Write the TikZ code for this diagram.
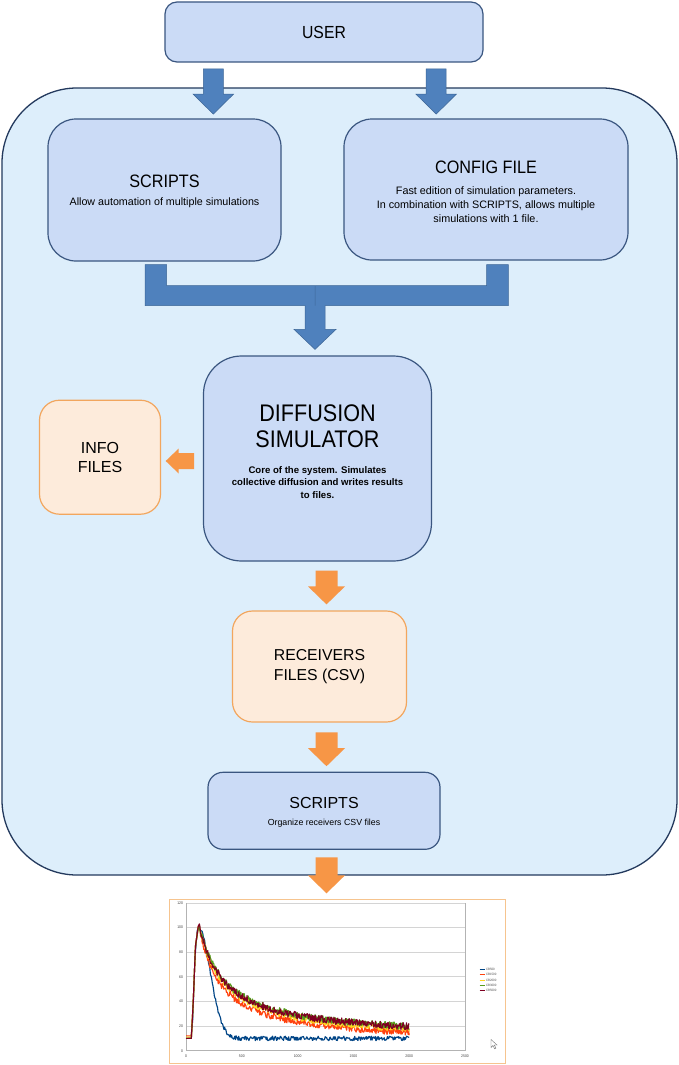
\documentclass[tikz,border=0pt]{standalone}
\usepackage{fontspec}
\setmainfont[FakeStretch=0.9]{Liberation Sans}
\newfontfamily\plainfont{Liberation Sans}
\usetikzlibrary{calc}
\definecolor{boxblue}{HTML}{CBDBF6}
\definecolor{boxedge}{HTML}{3A5680}
\definecolor{contfill}{HTML}{DDEEFB}
\definecolor{contedge}{HTML}{23395D}
\definecolor{arrblue}{HTML}{4F81BD}
\definecolor{arrblueedge}{HTML}{3C6596}
\definecolor{arrorange}{HTML}{F79646}
\definecolor{orfill}{HTML}{FDEBDB}
\definecolor{oredge}{HTML}{F2A65E}
\definecolor{chartedge}{HTML}{F6C48F}
\definecolor{gridgray}{HTML}{D4D4D4}
\definecolor{axisgray}{HTML}{B3B3B3}
\definecolor{cBlue}{HTML}{004586}
\definecolor{cRed}{HTML}{FF420E}
\definecolor{cYel}{HTML}{FFD320}
\definecolor{cGreen}{HTML}{579D1C}
\definecolor{cDark}{HTML}{7E0021}
\tikzset{
  bluebox/.style={draw=boxedge, fill=boxblue, line width=1.2pt, inner sep=0pt},
  orbox/.style={draw=oredge, fill=orfill, line width=1.2pt, inner sep=0pt, align=center, text=black},
  txt/.style={inner sep=0pt, align=center, text=black},
  barrow/.style={fill=arrblue, draw=arrblueedge, line width=0.5pt},
  oarrow/.style={fill=arrorange, draw=none},
  gridline/.style={draw=gridgray, line width=0.5pt},
  axisline/.style={draw=axisgray, line width=0.6pt},
  ticklab/.style={inner sep=0pt, font=\fontsize{3.8}{4}\selectfont, text=black!75},
  legtext/.style={inner sep=0pt, font=\fontsize{3.2}{3.5}\selectfont, text=black!70},
  curve/.style={line width=1.15pt, line join=round},
}
\newcommand{\blkdown}[6]{\draw[#1] let \p1=(#2), \p2=(#3) in
  (\x1-#4,\y1) -- (\x1+#4,\y1) -- (\x1+#4,\y2+#6) -- (\x1+#5,\y2+#6) -- (\x1,\y2)
  -- (\x1-#5,\y2+#6) -- (\x1-#4,\y2+#6) -- cycle;}
\newcommand{\blkleft}[6]{\draw[#1] let \p1=(#2), \p2=(#3) in
  (\x1,\y1+#4) -- (\x2+#6,\y1+#4) -- (\x2+#6,\y1+#5) -- (\x2,\y1)
  -- (\x2+#6,\y1-#5) -- (\x2+#6,\y1-#4) -- (\x1,\y1-#4) -- cycle;}
\begin{document}
\begin{tikzpicture}[x=1pt, y=-1pt]
\useasboundingbox (0,0) rectangle (679,1065);
\fill[white] (0,0) rectangle (679,1065);

% container
\node[draw=contedge, fill=contfill, line width=1.3pt, minimum width=675pt, minimum height=787pt, rounded corners=75pt, inner sep=0pt] (cont) at (339.5,481.5) {};

% boxes
\node[bluebox, minimum width=318pt, minimum height=60pt, rounded corners=12pt, font=\fontsize{17.5}{20}\selectfont] (user) at (324,32) {USER};
\node[bluebox, minimum width=233pt, minimum height=142pt, rounded corners=28pt] (scripts) at (164.5,190) {};
\node[bluebox, minimum width=284pt, minimum height=141pt, rounded corners=28pt] (config) at (486,189.5) {};
\node[bluebox, minimum width=228pt, minimum height=205pt, rounded corners=38pt] (diff) at (317.5,458.5) {};
\node[orbox, minimum width=121pt, minimum height=114pt, rounded corners=20pt, font=\plainfont\fontsize{16}{19.3}\selectfont] (info) at (100,457.2) {INFO\\FILES};
\node[orbox, minimum width=174pt, minimum height=111pt, rounded corners=20pt, font=\plainfont\fontsize{15.8}{20}\selectfont] (recv) at (319.5,666.5) {RECEIVERS\\FILES (CSV)};
\node[bluebox, minimum width=232pt, minimum height=77pt, rounded corners=15pt] (scripts2) at (324,810.8) {};

% texts
\node[txt, font=\fontsize{18}{20}\selectfont] (scriptsT) at (164.5,181.3) {SCRIPTS};
\node[txt, font=\plainfont\fontsize{10.7}{12}\selectfont] (scriptsS) at (164.5,202.5) {Allow automation of multiple simulations};
\node[txt, font=\fontsize{18}{20}\selectfont] (configT) at (486,167) {CONFIG FILE};
\node[txt, font=\plainfont\fontsize{10.8}{14}\selectfont] (configS) at (486,204.3) {Fast edition of simulation parameters.\\In combination with SCRIPTS,\ allows multiple\\simulations with 1 file.};
\node[txt, font=\fontsize{24}{26}\selectfont] (diffT) at (317.5,426.3) {DIFFUSION\\SIMULATOR};
\node[txt, font=\plainfont\bfseries\fontsize{9.6}{12.5}\selectfont] (diffS) at (317.5,482.5) {Core of the system. Simulates\\collective diffusion and writes results\\to files.};
\node[txt, font=\plainfont\fontsize{16}{18}\selectfont] (scripts2T) at (324,802.7) {SCRIPTS};
\node[txt, font=\plainfont\fontsize{8.8}{10}\selectfont] (scripts2S) at (324,823) {Organize receivers CSV files};

% chart frame
\node[draw=chartedge, fill=white, line width=1pt, minimum width=336pt, minimum height=164pt, inner sep=0pt] (chart) at (337,981.3) {};

% helper coordinates for arrow axes
\coordinate (a1) at (213.3,0);
\coordinate (a2) at (436.2,0);
\coordinate (a3) at (326.5,0);

% blue block arrows
\blkdown{barrow}{$(user.south -| a1)+(0,6.3)$}{$(scripts.north -| a1)+(0,-4.3)$}{10pt}{20.3pt}{20pt}
\blkdown{barrow}{$(user.south -| a2)+(0,6.3)$}{$(config.north -| a2)+(0,-4.3)$}{10pt}{20.3pt}{20pt}

% merge connector
\coordinate (mL) at ($(scripts.south)+(-8.7,3)$);
\coordinate (mR) at ($(config.south)+(11.5,4)$);
\coordinate (mD) at ($(diff.north)+(-2.5,-6)$);
\draw[barrow] let \p1=(mL), \p2=(mR), \p3=(mD) in
  (\x1-10.8pt,\y1) -- (\x1+10.8pt,\y1) -- (\x1+10.8pt,\y1-21pt) -- (\x2-10.8pt,\y1-21pt)
  -- (\x2-10.8pt,\y2) -- (\x2+10.8pt,\y2) -- (\x2+10.8pt,\y1-41pt) -- (\x3+10pt,\y1-41pt)
  -- (\x3+10pt,\y3+20pt) -- (\x3+21pt,\y3+20pt) -- (\x3,\y3) -- (\x3-21pt,\y3+20pt)
  -- (\x3-10pt,\y3+20pt) -- (\x3-10pt,\y1-41pt) -- (\x1-10.8pt,\y1-41pt) -- cycle
  (\x3,\y1-21pt) -- (\x3,\y1-41pt);

% orange block arrows
\blkleft{oarrow}{$(diff.west)+(-8.7,2.5)$}{$(info.east)+(4.6,2.5)$}{8pt}{12.5pt}{13pt}
\blkdown{oarrow}{$(diff.south -| a3)+(0,9)$}{$(recv.north -| a3)+(0,-6)$}{11pt}{18.5pt}{18pt}
\blkdown{oarrow}{$(recv.south -| a3)+(0,9.7)$}{$(scripts2.north -| a3)+(0,-5.5)$}{11pt}{18.5pt}{18pt}
\blkdown{oarrow}{$(scripts2.south -| a3)+(0,7.5)$}{$(chart.north -| a3)+(0,-5.5)$}{11pt}{18.5pt}{18pt}

\begin{scope}[shift={(186,1050.7)}, x=0.1116pt, y=1.233pt]
  \foreach \v in {20,40,...,120} \draw[gridline] (0,\v) -- (2500,\v);
  \draw[axisline] (0,0) -- (2500,0) (0,0) -- (0,120) (2500,0) -- (2500,120);
  \foreach \v [count=\i] in {0,20,...,120} \node[ticklab, anchor=east] (yl\i) at (-25,\v) {\v};
  \foreach \v [count=\i] in {0,500,...,2500} \node[ticklab] (xl\i) at (\v,-4.2) {\v};
  \pgfmathsetseed{11}
  \draw[curve, cBlue] (0,10) -- (45,10.5) -- (60,25) -- (80,75) -- (100,97) -- plot[domain=110:2000, samples=330] (\x,{10+90*exp(-((\x-110)/150)^2)+1.8*rand});
  \draw[curve, cRed] (0,12) -- (48,12) -- (65,40) -- (85,85) -- (110,101) -- plot[domain=120:2000, samples=380] (\x,{6+94/(1+(\x-120)/200)+2.8*rand});
  \draw[curve, cYel] (0,11) -- (48,11) -- (65,40) -- (85,85) -- (110,100) -- plot[domain=120:2000, samples=380] (\x,{8+93/(1+(\x-120)/225)+2.8*rand});
  \draw[curve, cGreen] (0,10) -- (48,10) -- (65,40) -- (85,85) -- (110,99) -- plot[domain=120:2000, samples=380] (\x,{9.5+91/(1+(\x-120)/240)+2.8*rand});
  \draw[curve, cDark] (0,10) -- (48,10) -- (65,40) -- (85,85) -- (110,101) -- plot[domain=120:2000, samples=380] (\x,{9.5+91/(1+(\x-120)/235)+3*rand});
\end{scope}

% legend
\foreach \c/\t [count=\i] in {cBlue/CB500, cRed/CB1500, cYel/CB2000, cGreen/CB3000, cDark/CB5000}{
  \draw[\c, line width=0.8pt] ({479.5},{969.3+5.35*(\i-1)}) -- ({485},{969.3+5.35*(\i-1)});
  \node[legtext, anchor=west] (lg\i) at ({485.8},{969.3+5.35*(\i-1)}) {\t};
}
% mouse pointer
\draw[fill=white, draw=black!55, line width=0.4pt] (491,1039.5) -- (491,1047.5) -- (493,1045.5) -- (494.6,1048.8) -- (495.9,1048.2) -- (494.3,1045) -- (497,1045) -- cycle;
\end{tikzpicture}
\end{document}
